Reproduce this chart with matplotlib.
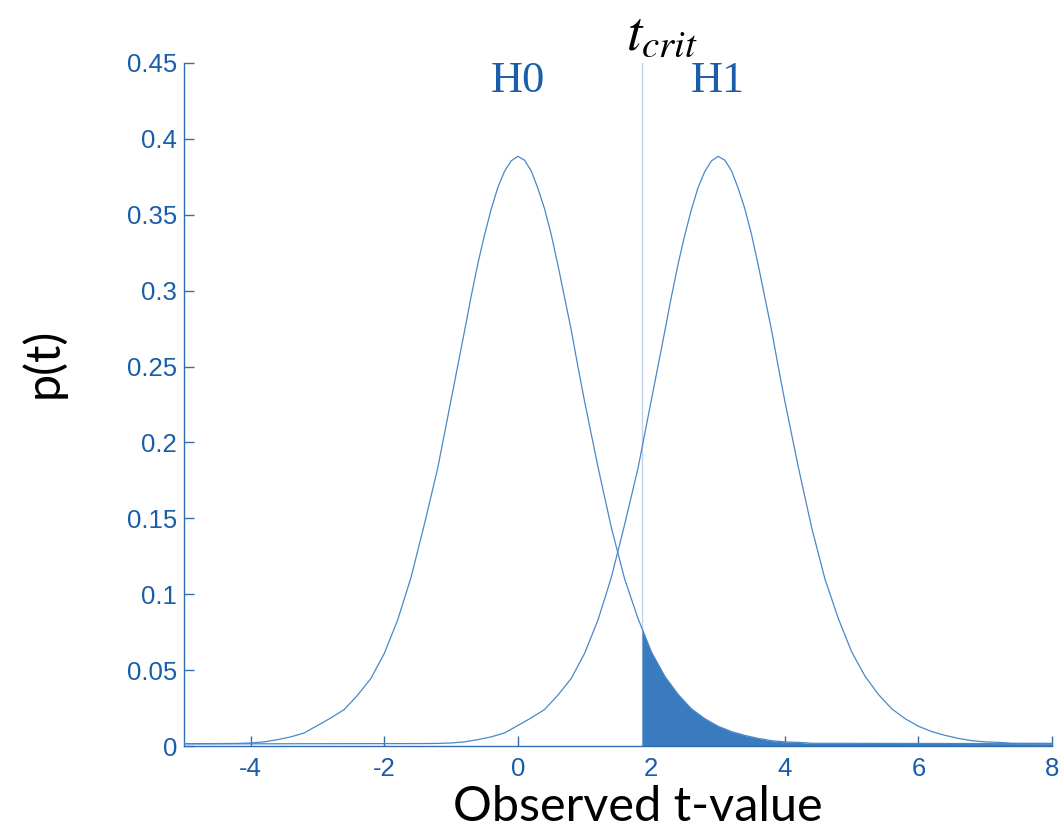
import numpy as np
import matplotlib
matplotlib.use("Agg")
import matplotlib.pyplot as plt

# Sampled null distribution of the t statistic (density per t-value)
t_grid = [-4.4, -4.2, -4.0, -3.8, -3.6, -3.4, -3.2, -3.0, -2.8, -2.6,
          -2.4, -2.2, -2.0, -1.8, -1.6, -1.4, -1.2,
          -1.0, -0.9, -0.8, -0.7, -0.6, -0.5, -0.4, -0.3, -0.2, -0.1,
          0.0, 0.1, 0.2, 0.3, 0.4, 0.5, 0.6, 0.7, 0.8, 0.9, 1.0,
          1.2, 1.4, 1.6, 1.8, 2.0, 2.2, 2.4, 2.6, 2.8, 3.0, 3.2, 3.4,
          3.6, 3.8, 4.0, 4.2, 4.4]
h0_density = [0.0016, 0.0017, 0.0020, 0.0027, 0.0042, 0.0060, 0.0086, 0.0135, 0.0185, 0.0240,
              0.0335, 0.0445, 0.0610, 0.0830, 0.1110, 0.1460, 0.1830,
              0.2280, 0.2505, 0.2730, 0.2960, 0.3175, 0.3365, 0.3535, 0.3680, 0.3785, 0.3855,
              0.3885, 0.3860, 0.3790, 0.3675, 0.3540, 0.3370, 0.3170, 0.2955, 0.2740, 0.2500, 0.2270,
              0.1840, 0.1440, 0.1100, 0.0840, 0.0620, 0.0460, 0.0340, 0.0245, 0.0180, 0.0130, 0.0095, 0.0070,
              0.0050, 0.0035, 0.0027, 0.0024, 0.0018]
tail_density = 0.0008
h1_shift = 3.0          # alternative hypothesis: same shape, shifted mean
t_crit = 1.86

x_min, x_max = -5, 8
y_min, y_max = 0, 0.45
x_ticks = [-4, -2, 0, 2, 4, 6, 8]
y_ticks = [0, 0.05, 0.1, 0.15, 0.2, 0.25, 0.3, 0.35, 0.4, 0.45]
y_tick_labels = ["0", "0.05", "0.1", "0.15", "0.2", "0.25", "0.3", "0.35", "0.4", "0.45"]

curve_color = "#4a87c9"
fill_color = "#3a7bbf"
axis_color = "#2f6db5"
text_blue = "#1a5dab"
crit_color = "#bcd3ec"

plt.rcParams["mathtext.fontset"] = "stix"

fig = plt.figure(figsize=(10.61, 8.30), dpi=100)
ax = fig.add_axes([0.1734, 0.1012, 0.8181, 0.8229])


def padded(xs, ys):
    xs = np.concatenate([[x_min - 10], xs, [x_max + 10]])
    ys = np.concatenate([[tail_density], ys, [tail_density]])
    return xs, ys


h0_x, h0_y = padded(np.array(t_grid), np.array(h0_density))
h1_x, h1_y = padded(np.array(t_grid) + h1_shift, np.array(h0_density))

# Rejection region under H0 beyond the critical value
fill_x = np.concatenate([[t_crit], h0_x[(h0_x > t_crit) & (h0_x < x_max)], [x_max]])
fill_y = np.interp(fill_x, h0_x, h0_y)
ax.fill_between(fill_x, 0, fill_y, color=fill_color, linewidth=0, zorder=2)

ax.plot(h0_x, h0_y, color=curve_color, lw=0.9, zorder=3)
ax.plot(h1_x, h1_y, color=curve_color, lw=0.9, zorder=3)

ax.axvline(t_crit, color=crit_color, lw=1.0, zorder=1)

ax.set_xlim(x_min, x_max)
ax.set_ylim(y_min, y_max)
ax.set_xticks(x_ticks)
ax.set_xticklabels([str(v) for v in x_ticks])
ax.set_yticks(y_ticks)
ax.set_yticklabels(y_tick_labels)

for side in ("top", "right"):
    ax.spines[side].set_visible(False)
for side in ("left", "bottom"):
    ax.spines[side].set_color(axis_color)
    ax.spines[side].set_linewidth(1.0)

ax.tick_params(axis="both", direction="in", length=7, width=1.0,
               color=axis_color, labelcolor=text_blue, labelsize=18.5)
ax.tick_params(axis="x", pad=8)
ax.tick_params(axis="y", pad=5)
for lab in ax.get_xticklabels() + ax.get_yticklabels():
    lab.set_family("Liberation Sans")

ax.text(0.0, 0.438, "H0", color=text_blue, fontsize=32, family="Liberation Serif",
        ha="center", va="center")
ax.text(3.0, 0.438, "H1", color=text_blue, fontsize=32, family="Liberation Serif",
        ha="center", va="center")

ax.text(t_crit + 0.3, 0.469, r"$t_{crit}$", color="black", fontsize=40,
        ha="center", va="center", clip_on=False)

fig.text(0.601, 0.011, "Observed t-value", fontsize=35, family="Lato",
         ha="center", va="baseline", color="black")
fig.text(0.0405, 0.5627, "p(t)", fontsize=35, family="Lato", rotation=90,
         ha="center", va="center", color="black")

fig.savefig("out.png", dpi=100)
